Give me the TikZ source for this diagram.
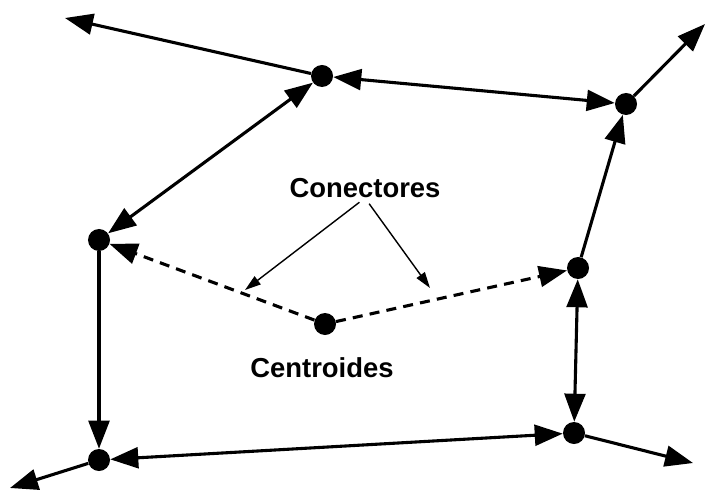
\documentclass[tikz,border=0pt]{standalone}
\usepackage{fontspec}
\setmainfont{Liberation Sans}
\usetikzlibrary{arrows.meta}

\begin{document}
\begin{tikzpicture}[x=0.025cm, y=-0.025cm]

\tikzset{vertex/.style = {shape=circle,fill=black,inner sep=0pt,minimum size=0.55cm}}
\tikzset{link/.style = {line width=2.2pt,-{Triangle[length=0.7cm,width=0.52cm]}}}
\tikzset{bilink/.style = {line width=2.2pt,{Triangle[length=0.7cm,width=0.52cm]}-{Triangle[length=0.7cm,width=0.52cm]}}}
\tikzset{dlink/.style = {link, dash pattern=on 0.25cm off 0.18cm}}
\tikzset{pointer/.style = {line width=1pt,-{Triangle[length=0.4cm,width=0.25cm]}}}
\tikzset{lbl/.style = {inner sep=0pt,font=\bfseries\fontsize{19.5}{22}\selectfont}}

\useasboundingbox (0,0) rectangle (707,491);

%verticies
\node[vertex] (a) at (322,76) {};
\node[vertex] (b) at (626,104) {};
\node[vertex] (c) at (99,240) {};
\node[vertex] (d) at (578,268) {};
\node[vertex] (cen) at (325,324) {};
\node[vertex] (f) at (99,460) {};
\node[vertex] (g) at (574,433) {};
%free ends
\coordinate (outA) at (65,18);
\coordinate (outB) at (705,24);
\coordinate (outF) at (10,488);
\coordinate (outG) at (693,463);
\coordinate (p1) at (245,290);
\coordinate (p2) at (430,288);
%labels
\node[lbl] (con) at (365,188) {Conectores};
\node[lbl] (ctr) at (322,368) {Centroides};
%edges
\draw [link] (a) -- (outA);
\draw [bilink] (a) -- (b);
\draw [link] (b) -- (outB);
\draw [bilink] (a) -- (c);
\draw [link] (d) -- (b);
\draw [bilink] (d) -- (g);
\draw [link] (c) -- (f);
\draw [bilink] (f) -- (g);
\draw [link] (f) -- (outF);
\draw [link] (g) -- (outG);
\draw [dlink] (cen) -- (c);
\draw [dlink] (cen) -- (d);
%pointers
\draw [pointer, shorten <=5pt] (con.south) -- (p1);
\draw [pointer, shorten <=5pt] (con.south) -- (p2);

\end{tikzpicture}
\end{document}
